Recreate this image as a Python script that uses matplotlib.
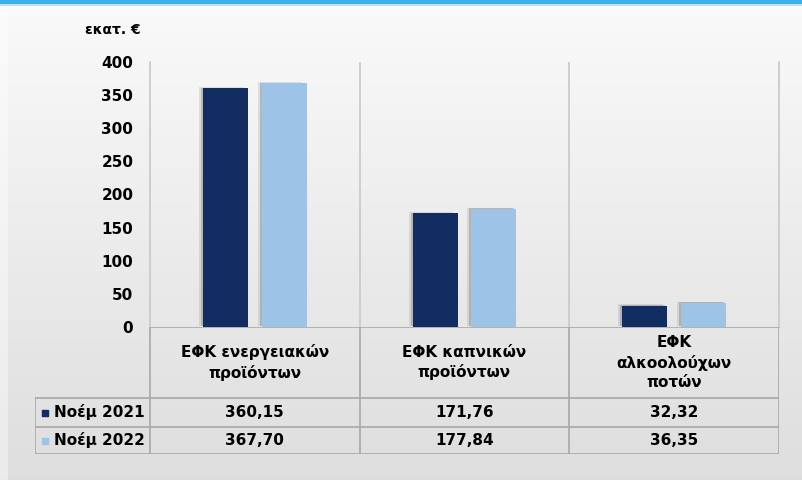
import numpy as np
import matplotlib.pyplot as plt
from matplotlib import patheffects as pe
from matplotlib.patches import Rectangle

categories = ["ΕΦΚ ενεργειακών\nπροϊόντων", "ΕΦΚ καπνικών\nπροϊόντων", "ΕΦΚ\nαλκοολούχων\nποτών"]
series_names = ["Νοέμ 2021", "Νοέμ 2022"]
values_2021 = [360.15, 171.76, 32.32]
values_2022 = [367.70, 177.84, 36.35]
yticks = [0, 50, 100, 150, 200, 250, 300, 350, 400]
unit_label = "εκατ. €"

dark = "#112d61"
light = "#9dc3e6"
grid_col = "#c8c8c8"
line_col = "#a8a8a8"

W, H = 803, 480


def box(l, t, r, b):
    # pixel box -> figure fraction
    return [l / W, 1 - b / H, (r - l) / W, (b - t) / H]


plt.rcParams['font.family'] = ['DejaVu Sans']
fig = plt.figure(figsize=(W / 100, H / 100), dpi=100)

# background gradient
bg = fig.add_axes([0, 0, 1, 1], zorder=-5)
grad = np.linspace(0, 1, 256).reshape(-1, 1)
top_c = np.array([0.98, 0.98, 0.98])
bot_c = np.array([0.87, 0.87, 0.87])
img = top_c + (bot_c - top_c) * grad[:, :, None]
bg.imshow(img, aspect='auto', extent=[0, 1, 0, 1])
bg.set_xlim(0, 1)
bg.set_ylim(0, 1)
bg.axis('off')
fig.patches.append(Rectangle((0, 0), 8 / W, 1, transform=fig.transFigure,
                             facecolor='white', alpha=0.4, edgecolor='none', zorder=-4))
fig.patches.append(Rectangle((0, 1 - 4 / H), 1, 4 / H, transform=fig.transFigure,
                             facecolor='#3aafe9', edgecolor='none'))
fig.patches.append(Rectangle((0, 1 - 5.5 / H), 1, 1.5 / H, transform=fig.transFigure,
                             facecolor='#c6dcea', edgecolor='none'))

# main bars
ax = fig.add_axes(box(150, 62, 779, 327))
ax.patch.set_visible(False)
x = np.arange(len(categories))
bw = 0.214
shadow = [pe.SimplePatchShadow(offset=(-3, 1), shadow_rgbFace='#9a9a9a', alpha=0.25),
          pe.SimplePatchShadow(offset=(-1.5, 0.5), shadow_rgbFace='#808080', alpha=0.4),
          pe.Normal()]
b1 = ax.bar(x - 0.14, values_2021, bw, color=dark, zorder=3)
b2 = ax.bar(x + 0.14, values_2022, bw, color=light, zorder=3)
for b in list(b1) + list(b2):
    b.set_path_effects(shadow)

ax.set_xlim(-0.5, 2.5)
ax.set_ylim(0, 400)
ax.set_yticks(yticks)
ax.set_yticklabels([str(t) for t in yticks], fontsize=11, fontweight='bold')
ax.tick_params(axis='y', length=0, pad=12)
ax.tick_params(axis='x', bottom=False, labelbottom=False)
for s in ['top', 'bottom']:
    ax.spines[s].set_visible(False)
for s in ['left', 'right']:
    ax.spines[s].set_color(grid_col)
    ax.spines[s].set_linewidth(1.2)
for xv in x[:-1] + 0.5:
    ax.axvline(xv, color=grid_col, lw=1.2, zorder=1)

fig.text(141 / W, 1 - 30 / H, unit_label, ha='right', va='center',
         fontsize=10, fontweight='bold')

# data table
tax = fig.add_axes(box(35, 327, 779, 454))
tax.patch.set_visible(False)
lab_w = 115 / 210
x0 = -0.5 - lab_w
tax.set_xlim(x0, 2.5)
tax.set_ylim(127, 0)
tax.axis('off')
rows_y = [0, 71, 100, 127]
tax.plot([-0.5, 2.5], [0, 0], color=line_col, lw=1.2)
for xv in [-0.5, 0.5, 1.5, 2.5]:
    tax.plot([xv, xv], [0, 127], color=line_col, lw=1.2)
for yv in rows_y[1:]:
    tax.plot([x0, 2.5], [yv, yv], color=line_col, lw=1.2)
tax.plot([x0, x0], [71, 127], color=line_col, lw=1.2)

for i, cat in enumerate(categories):
    tax.text(i, 35.5, cat, ha='center', va='center', fontsize=11,
             fontweight='bold', linespacing=1.35)

series = [values_2021, values_2022]
colors = [dark, light]
for r, (name, vals, col) in enumerate(zip(series_names, series, colors)):
    yc = (rows_y[r + 1] + rows_y[r + 2]) / 2
    tax.scatter([x0 + 10 / 210], [yc], marker='s', s=22, color=col, clip_on=False)
    tax.text(x0 + 19 / 210, yc, name, ha='left', va='center', fontsize=11,
             fontweight='bold')
    for i, v in enumerate(vals):
        tax.text(i, yc, f"{v:.2f}".replace('.', ','), ha='center', va='center',
                 fontsize=11, fontweight='bold')

fig.savefig("out.png", dpi=100)
